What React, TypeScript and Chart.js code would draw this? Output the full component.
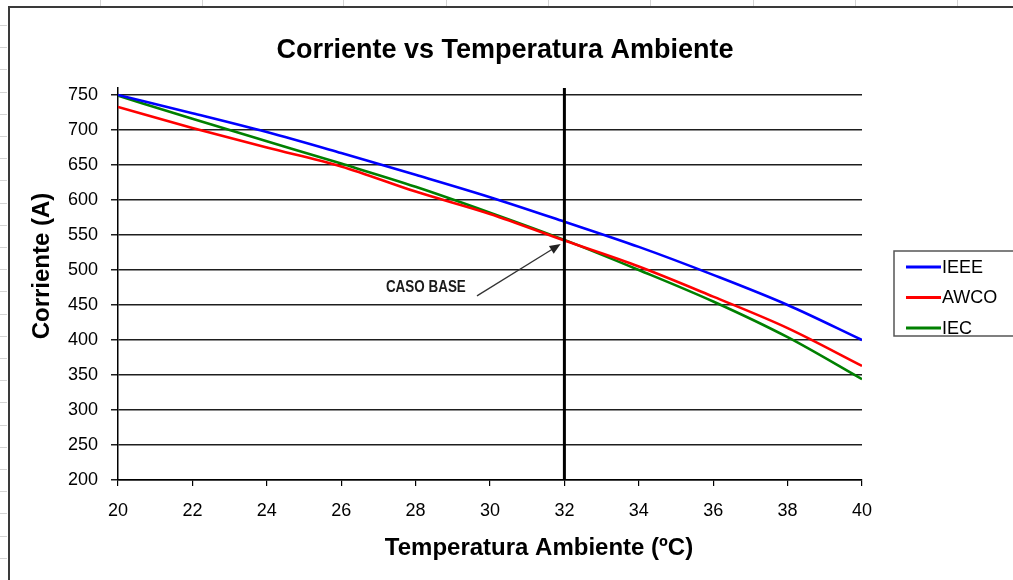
import { useEffect, useRef } from 'react';
import { Chart, registerables } from 'chart.js';

Chart.register(...registerables);

// Ambient temperature (ºC)
const temps = [20, 22, 24, 26, 28, 30, 32, 34, 36, 38, 40];
// Current (A) for each method
const ieee = [750, 724, 697, 667, 636, 604, 569, 533, 493, 450, 400];
const awco = [733, 703, 675, 648, 612, 580, 542, 505, 462, 417, 363];
const iec = [749, 716, 684, 652, 619, 582, 543, 500, 455, 404, 344];

const seriesNames = ['IEEE', 'AWCO', 'IEC'];
const seriesColors = ['#0000ff', '#ff0000', '#008000'];

// Y axis tick values
const yTickValues = [200, 250, 300, 350, 400, 450, 500, 550, 600, 650, 700, 750];

// Base case temperature and the annotation anchors
const baseTemp = 32;
const yMin = 200;
const yMax = 760;
const arrowTip = { x: 31.9, y: 537 };
const arrowTail = { x: 29.65, y: 463 };
const noteAnchor = { x: 29.35, y: 469 };
const noteText = 'CASO BASE';

const titleText = 'Corriente vs Temperatura Ambiente';
const yTitle = 'Corriente (A)';
const xTitle = 'Temperatura Ambiente (ºC)';

const FONT = '"Liberation Sans", Arial, sans-serif';

const decor = {
  id: 'decor',
  afterDraw(chart: any) {
    const ctx: CanvasRenderingContext2D = chart.ctx;
    const xs = chart.scales.x;
    const ys = chart.scales.y;
    ctx.save();

    // worksheet grid stubs outside the chart frame
    ctx.strokeStyle = '#d4d4d4';
    ctx.lineWidth = 1;
    [100, 202, 343, 446, 548, 650, 753, 855, 957].forEach((px) => {
      ctx.beginPath();
      ctx.moveTo(px + 0.5, 0);
      ctx.lineTo(px + 0.5, 6);
      ctx.stroke();
    });
    for (let py = 25; py < 580; py += 22.2) {
      ctx.beginPath();
      ctx.moveTo(0, Math.round(py) + 0.5);
      ctx.lineTo(7, Math.round(py) + 0.5);
      ctx.stroke();
    }

    // chart frame
    ctx.strokeStyle = '#3a3a3a';
    ctx.lineWidth = 2;
    ctx.strokeRect(9, 7, 1020, 600);

    // title
    ctx.fillStyle = '#000';
    ctx.textAlign = 'center';
    ctx.textBaseline = 'alphabetic';
    ctx.font = `bold 27px ${FONT}`;
    ctx.fillText(titleText, 505, 58);

    // x axis title
    ctx.font = `bold 24px ${FONT}`;
    ctx.fillText(xTitle, 539, 555);

    // y axis title
    ctx.save();
    ctx.translate(49, 266);
    ctx.rotate(-Math.PI / 2);
    ctx.fillText(yTitle, 0, 0);
    ctx.restore();

    // legend
    const lx = 894;
    const ly = 251;
    ctx.strokeStyle = '#555';
    ctx.lineWidth = 1.5;
    ctx.strokeRect(lx, ly, 130, 85);
    ctx.font = `18px ${FONT}`;
    ctx.textAlign = 'left';
    ctx.textBaseline = 'middle';
    seriesNames.forEach((name, i) => {
      const cy = ly + 16 + i * 30.5;
      ctx.strokeStyle = seriesColors[i];
      ctx.lineWidth = 3;
      ctx.beginPath();
      ctx.moveTo(lx + 12, cy);
      ctx.lineTo(lx + 47, cy);
      ctx.stroke();
      ctx.fillStyle = '#000';
      ctx.fillText(name, lx + 48, cy + 1);
    });

    // base case note with arrow
    const tx = xs.getPixelForValue(arrowTip.x);
    const ty = ys.getPixelForValue(arrowTip.y);
    const sx = xs.getPixelForValue(arrowTail.x);
    const sy = ys.getPixelForValue(arrowTail.y);
    const ang = Math.atan2(ty - sy, tx - sx);
    ctx.strokeStyle = '#333';
    ctx.fillStyle = '#222';
    ctx.lineWidth = 1.3;
    ctx.beginPath();
    ctx.moveTo(sx, sy);
    ctx.lineTo(tx - 8 * Math.cos(ang), ty - 8 * Math.sin(ang));
    ctx.stroke();
    ctx.beginPath();
    ctx.moveTo(tx, ty);
    ctx.lineTo(tx - 11 * Math.cos(ang) + 4.5 * Math.sin(ang), ty - 11 * Math.sin(ang) - 4.5 * Math.cos(ang));
    ctx.lineTo(tx - 11 * Math.cos(ang) - 4.5 * Math.sin(ang), ty - 11 * Math.sin(ang) + 4.5 * Math.cos(ang));
    ctx.closePath();
    ctx.fill();

    const nx = xs.getPixelForValue(noteAnchor.x);
    const ny = ys.getPixelForValue(noteAnchor.y);
    ctx.save();
    ctx.translate(nx, ny);
    ctx.scale(0.84, 1);
    ctx.font = `bold 16px ${FONT}`;
    ctx.textAlign = 'right';
    ctx.textBaseline = 'alphabetic';
    ctx.fillStyle = '#1a1a1a';
    ctx.fillText(noteText, 0, 0);
    ctx.restore();

    ctx.restore();
  },
};

export default function App() {
  const ref = useRef<HTMLCanvasElement>(null);

  useEffect(() => {
    const pts = (vals: number[]) => temps.map((t, i) => ({ x: t, y: vals[i] }));
    const allSeries = [ieee, awco, iec];
    const chart = new Chart(ref.current as HTMLCanvasElement, {
      type: 'line',
      data: {
        datasets: [
          {
            label: 'base',
            data: [
              { x: baseTemp, y: yMin },
              { x: baseTemp, y: yMax },
            ],
            borderColor: '#000',
            borderWidth: 3,
            pointRadius: 0,
          },
          ...seriesNames.map((name, i) => ({
            label: name,
            data: pts(allSeries[i]),
            borderColor: seriesColors[i],
            borderWidth: 2.6,
            pointRadius: 0,
            cubicInterpolationMode: 'monotone' as const,
          })),
        ],
      },
      options: {
        animation: false,
        responsive: false,
        devicePixelRatio: 1,
        layout: { padding: { top: 88, right: 151, left: 0, bottom: 0 } },
        plugins: { legend: { display: false }, tooltip: { enabled: false } },
        scales: {
          x: {
            type: 'linear',
            min: 20,
            max: 40,
            afterFit: (s: any) => {
              s.height = 100;
            },
            ticks: {
              stepSize: 2,
              color: '#000',
              padding: 14,
              font: { family: FONT, size: 18 },
            },
            grid: { drawOnChartArea: false, drawTicks: true, tickLength: 6, color: '#000', lineWidth: 1.2 },
            border: { display: true, color: '#000', width: 1.5 },
          },
          y: {
            type: 'linear',
            min: yMin,
            max: yMax,
            afterFit: (s: any) => {
              s.width = 118;
            },
            afterBuildTicks: (s: any) => {
              s.ticks = yTickValues.map((v) => ({ value: v }));
            },
            ticks: {
              color: '#000',
              padding: 13,
              font: { family: FONT, size: 18 },
            },
            grid: { drawTicks: true, tickLength: 7, color: '#1e1e1e', lineWidth: 1.5 },
            border: { display: true, color: '#000', width: 1.5 },
          },
        },
      },
      plugins: [decor],
    });
    return () => chart.destroy();
  }, []);

  return (
    <div style={{ position: 'fixed', left: 0, top: 0, width: 1013, height: 580, background: '#fff' }}>
      <canvas ref={ref} width={1013} height={580} style={{ display: 'block' }} />
    </div>
  );
}
